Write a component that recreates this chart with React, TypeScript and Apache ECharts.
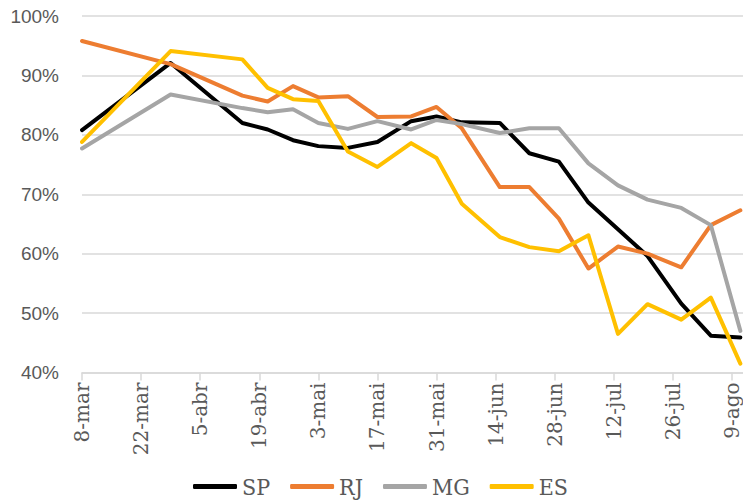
import React, { useEffect, useRef } from "react";
import * as echarts from "echarts";

// Observation dates (2020) and isolation index (%) per state
const dates = [
  "2020-03-08", "2020-03-29", "2020-04-15", "2020-04-21", "2020-04-27",
  "2020-05-03", "2020-05-10", "2020-05-17", "2020-05-25", "2020-05-31",
  "2020-06-06", "2020-06-15", "2020-06-22", "2020-06-29", "2020-07-06",
  "2020-07-13", "2020-07-20", "2020-07-28", "2020-08-04", "2020-08-11",
];
const SP = [80.8, 92.1, 82.0, 80.9, 79.1, 78.1, 77.8, 78.8, 82.3, 83.1, 82.1, 82.0, 76.9, 75.5, 68.6, 64.1, 59.6, 51.6, 46.2, 45.9];
const RJ = [95.8, 91.9, 86.6, 85.6, 88.2, 86.3, 86.5, 83.0, 83.1, 84.7, 81.1, 71.2, 71.2, 65.9, 57.5, 61.2, 60.0, 57.7, 64.8, 67.3];
const MG = [77.7, 86.8, 84.5, 83.8, 84.3, 82.0, 81.0, 82.3, 80.9, 82.5, 81.8, 80.3, 81.1, 81.1, 75.2, 71.5, 69.1, 67.7, 64.8, 47.0];
const ES = [78.8, 94.1, 92.7, 87.9, 86.0, 85.7, 77.2, 74.6, 78.6, 76.1, 68.4, 62.8, 61.1, 60.4, 63.1, 46.5, 51.5, 48.9, 52.6, 41.5];

const seriesNames = ["SP", "RJ", "MG", "ES"];
const seriesColors = ["#000000", "#ED7D31", "#A5A5A5", "#FFC000"];
const monthNames = ["jan", "fev", "mar", "abr", "mai", "jun", "jul", "ago", "set", "out", "nov", "dez"];

const START = Date.UTC(2020, 2, 8);
const DAY = 86400000;
const toDay = (s: string) => {
  const [y, m, d] = s.split("-").map(Number);
  return Math.round((Date.UTC(y, m - 1, d) - START) / DAY);
};
const dayLabel = (v: number) => {
  const dt = new Date(START + v * DAY);
  return dt.getUTCDate() + "-" + monthNames[dt.getUTCMonth()];
};

export default function App() {
  const ref = useRef<HTMLDivElement>(null);
  useEffect(() => {
    if (!ref.current) return;
    const chart = echarts.init(ref.current, null, { renderer: "svg" });
    const xs = dates.map(toDay);
    const all = [SP, RJ, MG, ES];
    chart.setOption({
      animation: false,
      backgroundColor: "#ffffff",
      grid: {
        left: 82,
        top: 16,
        height: 356.5,
        width: 709,
        containLabel: false,
        outerBoundsMode: "none",
      },
      legend: {
        left: 188,
        top: 470,
        icon: "roundRect",
        itemWidth: 44,
        itemHeight: 5,
        itemGap: 20,
        textStyle: {
          fontFamily: "'DejaVu Serif Condensed', 'DejaVu Serif', serif",
          fontSize: 23,
          color: "#595959",
        },
        data: seriesNames,
      },
      xAxis: {
        type: "value",
        min: 0,
        max: 168,
        interval: 14,
        splitLine: { show: false },
        axisLine: { show: true, lineStyle: { color: "#D9D9D9", width: 1.5 } },
        axisTick: { show: true, length: 8, lineStyle: { color: "#D9D9D9", width: 1.5 } },
        axisLabel: {
          rotate: 90,
          margin: 10,
          formatter: (v: number) => dayLabel(v),
          fontFamily: "'DejaVu Serif', serif",
          fontSize: 20,
          color: "#595959",
          showMaxLabel: true,
        },
      },
      yAxis: {
        type: "value",
        min: 40,
        max: 100,
        interval: 10,
        axisLine: { show: false },
        axisTick: { show: false },
        splitLine: { lineStyle: { color: "#D9D9D9", width: 1.5 } },
        axisLabel: {
          margin: 23,
          formatter: (v: number) => v + "%",
          fontFamily: "'Liberation Sans', Arial, sans-serif",
          fontSize: 19,
          color: "#595959",
        },
      },
      series: seriesNames.map((name, i) => ({
        name,
        type: "line",
        data: all[i].map((v, k) => [xs[k], v]),
        showSymbol: false,
        symbol: "none",
        color: seriesColors[i],
        lineStyle: { width: 4, color: seriesColors[i], cap: "round", join: "round" },
      })),
    });
    return () => chart.dispose();
  }, []);
  return (
    <div
      ref={ref}
      style={{ position: "absolute", left: 0, top: 0, width: 743, height: 501 }}
    />
  );
}
